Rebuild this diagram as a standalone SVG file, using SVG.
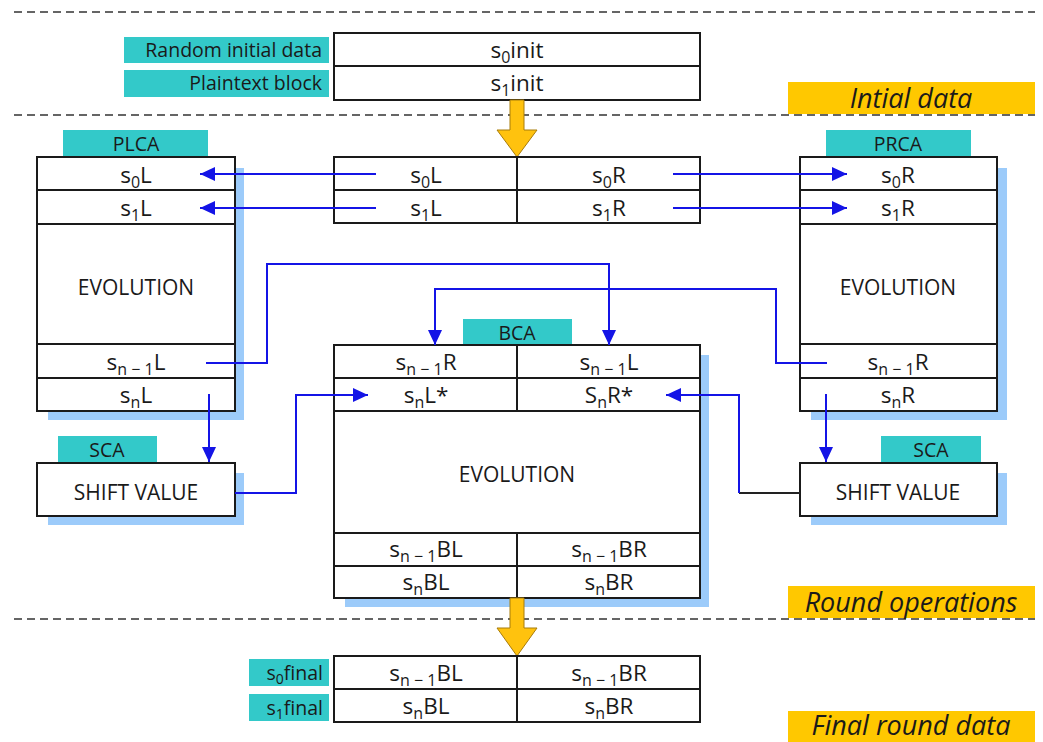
<svg xmlns="http://www.w3.org/2000/svg" width="1043" height="742" viewBox="0 0 1043 742">
<style>
.t{font-family:"Open Sans","Liberation Sans",sans-serif;fill:#1a1a1a;text-anchor:middle}
.m{font-size:22.5px}
.e{font-size:21px}
.lb{font-size:19.5px}
.y{font-family:"Open Sans","Liberation Sans",sans-serif;font-style:italic;font-size:27px;fill:#1a1a1a;text-anchor:middle}
.box{fill:#fff;stroke:#1a1a1a;stroke-width:2}
.ln{stroke:#1a1a1a;stroke-width:2}
.sh{fill:#9ccbfa}
.teal{fill:#33c9c9}
.yel{fill:#ffc800}
.dash{stroke:#333;stroke-width:1.5;stroke-dasharray:8 5;fill:none}
.c{fill:none;stroke:#1414e6;stroke-width:2}
.ya{fill:#ffc20e;stroke:#a87c0b;stroke-width:1}
</style>
<defs>
<marker id="ah" markerUnits="userSpaceOnUse" markerWidth="16" markerHeight="14" refX="15" refY="7" orient="auto">
<path d="M0,0 L15,7 L0,14 Z" fill="#1414e6"/>
</marker>
</defs>
<rect width="1043" height="742" fill="#fff"/>

<g id="separators">
<line class="dash" x1="14" y1="12" x2="1035" y2="12"/>
<line class="dash" x1="14" y1="115" x2="1035" y2="115"/>
<line class="dash" x1="14" y1="619" x2="1035" y2="619"/>
</g>

<g id="init">
<rect class="teal" x="124" y="37" width="205" height="26"/>
<text class="t lb" x="322" y="57" style="text-anchor:end">Random initial data</text>
<rect class="teal" x="124" y="70" width="205" height="27"/>
<text class="t lb" x="322" y="90" style="text-anchor:end">Plaintext block</text>
<rect class="box" x="334" y="33" width="366" height="67"/>
<line class="ln" x1="334" y1="66" x2="700" y2="66"/>
<text class="t m" x="517" y="58">s<tspan font-size="16" dy="5">0</tspan><tspan dy="-5">init</tspan></text>
<text class="t m" x="517" y="91">s<tspan font-size="16" dy="5">1</tspan><tspan dy="-5">init</tspan></text>
</g>

<g id="label-initial">
<rect class="yel" x="788" y="82" width="247" height="32"/>
<text class="y" x="911" y="108">Intial data</text>
</g>

<g id="arrow-top">
<polygon class="ya" points="510,100 524,100 524,130 537,130 517,157 497,130 510,130"/>
</g>

<g id="split">
<rect class="box" x="334" y="157" width="366" height="66"/>
<line class="ln" x1="334" y1="190" x2="700" y2="190"/>
<line class="ln" x1="517" y1="157" x2="517" y2="223"/>
<text class="t m" x="426" y="183">s<tspan font-size="16" dy="5">0</tspan><tspan dy="-5">L</tspan></text>
<text class="t m" x="609" y="183">s<tspan font-size="16" dy="5">0</tspan><tspan dy="-5">R</tspan></text>
<text class="t m" x="426" y="216">s<tspan font-size="16" dy="5">1</tspan><tspan dy="-5">L</tspan></text>
<text class="t m" x="609" y="216">s<tspan font-size="16" dy="5">1</tspan><tspan dy="-5">R</tspan></text>
</g>

<g id="plca">
<rect class="sh" x="48" y="168" width="196" height="252"/>
<rect class="teal" x="63" y="130" width="145" height="27"/>
<text class="t lb" x="136" y="151">PLCA</text>
<rect class="box" x="37" y="157" width="198" height="254"/>
<line class="ln" x1="37" y1="190" x2="235" y2="190"/>
<line class="ln" x1="37" y1="224" x2="235" y2="224"/>
<line class="ln" x1="37" y1="344" x2="235" y2="344"/>
<line class="ln" x1="37" y1="378" x2="235" y2="378"/>
<text class="t m" x="136" y="183">s<tspan font-size="16" dy="5">0</tspan><tspan dy="-5">L</tspan></text>
<text class="t m" x="136" y="216">s<tspan font-size="16" dy="5">1</tspan><tspan dy="-5">L</tspan></text>
<text class="t e" x="136" y="295">EVOLUTION</text>
<text class="t m" x="136" y="370">s<tspan font-size="16" dy="5">n − 1</tspan><tspan dy="-5">L</tspan></text>
<text class="t m" x="136" y="403">s<tspan font-size="16" dy="5">n</tspan><tspan dy="-5">L</tspan></text>
</g>

<g id="prca">
<rect class="sh" x="811" y="168" width="196" height="252"/>
<rect class="teal" x="826" y="130" width="145" height="27"/>
<text class="t lb" x="898" y="151">PRCA</text>
<rect class="box" x="800" y="157" width="197" height="254"/>
<line class="ln" x1="800" y1="190" x2="997" y2="190"/>
<line class="ln" x1="800" y1="224" x2="997" y2="224"/>
<line class="ln" x1="800" y1="344" x2="997" y2="344"/>
<line class="ln" x1="800" y1="378" x2="997" y2="378"/>
<text class="t m" x="898" y="183">s<tspan font-size="16" dy="5">0</tspan><tspan dy="-5">R</tspan></text>
<text class="t m" x="898" y="216">s<tspan font-size="16" dy="5">1</tspan><tspan dy="-5">R</tspan></text>
<text class="t e" x="898" y="295">EVOLUTION</text>
<text class="t m" x="898" y="370">s<tspan font-size="16" dy="5">n − 1</tspan><tspan dy="-5">R</tspan></text>
<text class="t m" x="898" y="403">s<tspan font-size="16" dy="5">n</tspan><tspan dy="-5">R</tspan></text>
</g>

<g id="sca-left">
<rect class="sh" x="48" y="473" width="196" height="52"/>
<rect class="teal" x="58" y="436" width="99" height="26"/>
<text class="t lb" x="107" y="457">SCA</text>
<rect class="box" x="37" y="463" width="198" height="53"/>
<text class="t e" x="136" y="500">SHIFT VALUE</text>
</g>

<g id="sca-right">
<rect class="sh" x="811" y="473" width="196" height="52"/>
<rect class="teal" x="881" y="436" width="100" height="26"/>
<text class="t lb" x="931" y="457">SCA</text>
<rect class="box" x="800" y="463" width="197" height="53"/>
<text class="t e" x="898" y="500">SHIFT VALUE</text>
</g>

<g id="bca">
<rect class="sh" x="345" y="355" width="364" height="252"/>
<rect class="teal" x="463" y="319" width="109" height="26"/>
<text class="t lb" x="517" y="340">BCA</text>
<rect class="box" x="334" y="345" width="366" height="253"/>
<line class="ln" x1="334" y1="378" x2="700" y2="378"/>
<line class="ln" x1="334" y1="411" x2="700" y2="411"/>
<line class="ln" x1="334" y1="533" x2="700" y2="533"/>
<line class="ln" x1="334" y1="566" x2="700" y2="566"/>
<line class="ln" x1="517" y1="345" x2="517" y2="411"/>
<line class="ln" x1="517" y1="533" x2="517" y2="598"/>
<text class="t m" x="426" y="370">s<tspan font-size="16" dy="5">n − 1</tspan><tspan dy="-5">R</tspan></text>
<text class="t m" x="609" y="370">s<tspan font-size="16" dy="5">n − 1</tspan><tspan dy="-5">L</tspan></text>
<text class="t m" x="426" y="403">s<tspan font-size="16" dy="5">n</tspan><tspan dy="-5">L*</tspan></text>
<text class="t m" x="609" y="403">S<tspan font-size="16" dy="5">n</tspan><tspan dy="-5">R*</tspan></text>
<text class="t e" x="517" y="482">EVOLUTION</text>
<text class="t m" x="426" y="557">s<tspan font-size="16" dy="5">n − 1</tspan><tspan dy="-5">BL</tspan></text>
<text class="t m" x="609" y="557">s<tspan font-size="16" dy="5">n − 1</tspan><tspan dy="-5">BR</tspan></text>
<text class="t m" x="426" y="590">s<tspan font-size="16" dy="5">n</tspan><tspan dy="-5">BL</tspan></text>
<text class="t m" x="609" y="590">s<tspan font-size="16" dy="5">n</tspan><tspan dy="-5">BR</tspan></text>
</g>

<g id="label-round">
<rect class="yel" x="788" y="586" width="247" height="32"/>
<text class="y" x="911" y="612">Round operations</text>
</g>

<g id="arrow-bottom">
<polygon class="ya" points="510,598 524,598 524,628 537,628 517,656 497,628 510,628"/>
</g>

<g id="final">
<rect class="teal" x="249" y="659" width="80" height="27"/>
<text class="t lb" x="323" y="680" style="text-anchor:end">s<tspan font-size="14" dy="4">0</tspan><tspan dy="-4">final</tspan></text>
<rect class="teal" x="249" y="694" width="80" height="27"/>
<text class="t lb" x="323" y="715" style="text-anchor:end">s<tspan font-size="14" dy="4">1</tspan><tspan dy="-4">final</tspan></text>
<rect class="box" x="334" y="656" width="366" height="66"/>
<line class="ln" x1="334" y1="689" x2="700" y2="689"/>
<line class="ln" x1="517" y1="656" x2="517" y2="722"/>
<text class="t m" x="426" y="681">s<tspan font-size="16" dy="5">n − 1</tspan><tspan dy="-5">BL</tspan></text>
<text class="t m" x="609" y="681">s<tspan font-size="16" dy="5">n − 1</tspan><tspan dy="-5">BR</tspan></text>
<text class="t m" x="426" y="714">s<tspan font-size="16" dy="5">n</tspan><tspan dy="-5">BL</tspan></text>
<text class="t m" x="609" y="714">s<tspan font-size="16" dy="5">n</tspan><tspan dy="-5">BR</tspan></text>
</g>

<g id="label-final">
<rect class="yel" x="788" y="711" width="247" height="31"/>
<text class="y" x="911" y="735">Final round data</text>
</g>

<g id="connectors">
<path class="c" d="M376,174 H200" marker-end="url(#ah)"/>
<path class="c" d="M376,208 H200" marker-end="url(#ah)"/>
<path class="c" d="M673,174 H847" marker-end="url(#ah)"/>
<path class="c" d="M673,208 H847" marker-end="url(#ah)"/>
<path class="c" d="M206,363 H267 V264 H609 V345" marker-end="url(#ah)"/>
<path class="c" d="M827,363 H776 V289 H435 V345" marker-end="url(#ah)"/>
<path class="c" d="M209,394 V462" marker-end="url(#ah)"/>
<path class="c" d="M826,394 V462" marker-end="url(#ah)"/>
<path class="c" d="M235,493 H296 V395 H368" marker-end="url(#ah)"/>
<path d="M800,493 H739" fill="none" stroke="#222" stroke-width="2"/>
<path class="c" d="M739,493 V395 H666" marker-end="url(#ah)"/>
</g>
</svg>
